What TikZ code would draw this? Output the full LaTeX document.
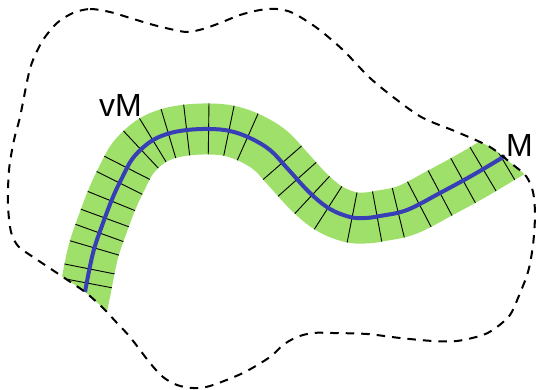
\documentclass[tikz,border=0pt]{standalone}
\usepackage{fontspec}
\setmainfont{Liberation Sans}
\usetikzlibrary{decorations.markings}

\definecolor{bandgreen}{RGB}{158,224,106}
\definecolor{curveblue}{RGB}{56,62,182}

% closed boundary of the region
\def\regionpath{plot[smooth cycle, tension=0.5] coordinates {
  (73,13) (90,9) (110,12) (127,17) (150,24) (170,29) (187,32) (203,29)
  (220,23) (240,15) (260,10) (277,9) (293,13) (317,28) (343,50) (370,78)
  (397,100) (423,118) (457,132) (490,147) (512,164) (526,176) (533,192)
  (535,215) (533,245) (528,272) (518,298) (510,315) (497,327) (483,335)
  (457,341) (433,341) (400,338) (367,334) (333,333) (313,333) (297,337)
  (283,345) (270,357) (243,373) (210,386) (193,388) (177,385) (163,377)
  (150,363) (130,337) (117,323) (103,308) (85,292) (63,277) (45,265)
  (30,255) (18,246) (11,232) (8,205) (9,170) (14,140) (20,117) (28,77)
  (33,60) (43,40) (57,23)}}

% points of the central curve
\def\curvepoints{(85,292) (93,253) (103,223) (113,197) (122,178) (133,158)
  (150,142) (167,134) (187,130) (210,129) (230,131) (250,138) (270,150)
  (287,168) (310,193) (330,209) (350,217) (365,218) (380,216) (407,210)
  (440,193) (473,175) (505,156)}

% the same curve, continued a little past both ends for the band
\def\bandpath{plot[smooth, tension=0.6] coordinates {
  (79,321) \curvepoints (531,141)}}

\tikzset{
  rungline/.style={black, line width=0.9},
  /pgf/decoration/rung/.style={mark=at position #1 with {\draw[rungline] (0,-25.5) -- (0,25.5);}},
  outline/.style={black, line width=2, dash pattern=on 8.5 off 7},
  label/.style={inner sep=0, anchor=base west, font=\fontsize{32}{38}\selectfont}
}

\begin{document}
\begin{tikzpicture}[x=1pt, y=-1pt]
\useasboundingbox (0,0) rectangle (538,390);

\begin{scope}
  \clip \regionpath;
  % tubular band around the curve
  \draw[bandgreen, line width=51, line cap=butt] \bandpath;
  % transverse rungs, first half measured from the start
  \path[postaction={decorate}, decoration={markings,
      rung=38.8pt, rung=53.1pt, rung=74.7pt, rung=90.5pt, rung=106.4pt,
      rung=124.6pt, rung=144.4pt, rung=161.3pt, rung=184.4pt, rung=199.6pt,
      rung=216.6pt, rung=235.2pt, rung=257.2pt, rung=277.6pt, rung=297.4pt}]
    \bandpath;
  % second half measured from the end
  \path[postaction={decorate}, decoration={markings,
      rung=-288.2pt, rung=-266pt, rung=-244.3pt, rung=-223.8pt,
      rung=-197.8pt, rung=-172.6pt, rung=-151.1pt, rung=-128.4pt,
      rung=-104.8pt, rung=-78.6pt, rung=-55.6pt, rung=-33.8pt}]
    \bandpath;
\end{scope}

% the curve itself
\draw[curveblue, line width=4, line cap=butt]
  plot[smooth, tension=0.6] coordinates {\curvepoints};

\draw[outline] \regionpath;

\node[label] (vm) at (99,117) {vM};
\node[label] (m) at (506,157) {M};
\end{tikzpicture}
\end{document}
